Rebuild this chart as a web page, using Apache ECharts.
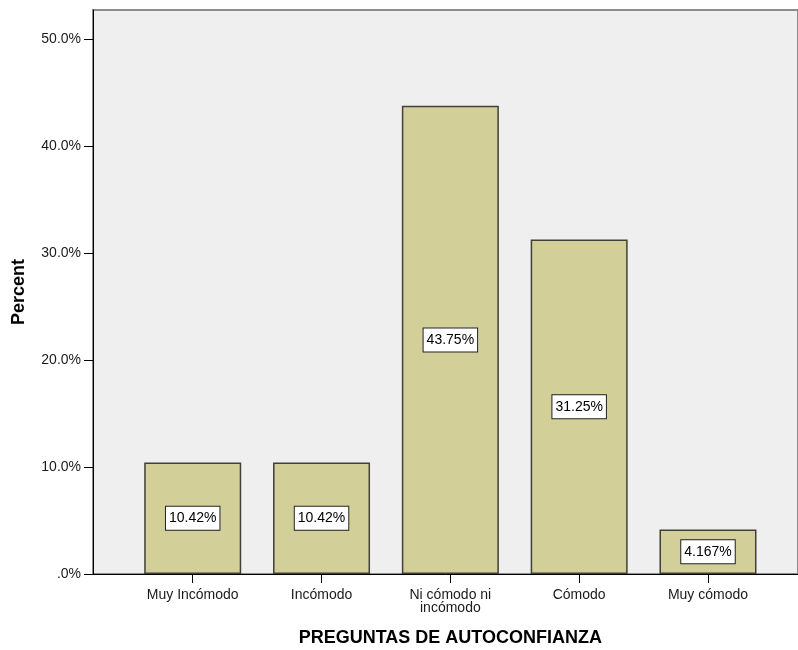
<!DOCTYPE html>
<html>
<head>
<meta charset="utf-8">
<script src="https://cdn.jsdelivr.net/npm/echarts@6/dist/echarts.min.js"></script>
<style>
  html, body { margin: 0; padding: 0; background: #ffffff; }
  #chart { width: 798px; height: 650px; }
</style>
</head>
<body>
<div id="chart"></div>
<script>
// Response categories and their percentages
const categories = ['Muy Incómodo', 'Incómodo', 'Ni cómodo ni\nincómodo', 'Cómodo', 'Muy cómodo'];
const percents = [10.42, 10.42, 43.75, 31.25, 4.167];
const percentLabels = ['10.42%', '10.42%', '43.75%', '31.25%', '4.167%'];
const yTicks = [0, 10, 20, 30, 40, 50];

const FONT = '"Liberation Sans", Arial, sans-serif';
const Y_MAX = 52.7;

const chart = echarts.init(document.getElementById('chart'), null, { renderer: 'canvas' });

chart.setOption({
  animation: false,
  backgroundColor: '#ffffff',
  textStyle: { fontFamily: FONT },
  grid: [
    // plot frame with the grey panel
    { left: 93, right: 0, top: 10, bottom: 76, show: true, outerBoundsMode: 'none', containLabel: false,
      backgroundColor: '#efefef', borderColor: '#8c8c8c', borderWidth: 2 },
    // band area where the bars sit
    { left: 128.3, right: 25.6, top: 10, bottom: 76, outerBoundsMode: 'none', containLabel: false }
  ],
  xAxis: [
    { type: 'value', gridIndex: 0, min: 0, max: 1,
      axisLine: { show: true, lineStyle: { color: '#000', width: 1 } },
      axisTick: { show: false }, axisLabel: { show: false }, splitLine: { show: false } },
    { type: 'category', gridIndex: 1, data: categories,
      axisLine: { show: false, onZero: false },
      axisTick: { show: true, alignWithLabel: true, length: 9, lineStyle: { color: '#000', width: 1 } },
      axisLabel: { margin: 15, fontSize: 14, color: '#1a1a1a', fontFamily: FONT, lineHeight: 13, interval: 0 },
      splitLine: { show: false },
      name: 'PREGUNTAS DE AUTOCONFIANZA', nameLocation: 'middle', nameGap: 55,
      nameTextStyle: { fontSize: 18, fontWeight: 'bold', color: '#000', fontFamily: FONT }
    }
  ],
  yAxis: [
    { type: 'value', gridIndex: 0, min: 0, max: Y_MAX,
      axisLine: { show: true, lineStyle: { color: '#000', width: 1 } },
      axisTick: { show: true, length: 9, customValues: yTicks, lineStyle: { color: '#000', width: 1 } },
      axisLabel: { margin: 12, fontSize: 14, color: '#1a1a1a', fontFamily: FONT, customValues: yTicks,
        formatter: v => (v === 0 ? '.0%' : v.toFixed(1) + '%') },
      splitLine: { show: false },
      name: 'Percent', nameLocation: 'middle', nameGap: 65, nameRotate: 90,
      nameTextStyle: { fontSize: 18, fontWeight: 'bold', color: '#000', fontFamily: FONT }
    },
    { type: 'value', gridIndex: 1, min: 0, max: Y_MAX, show: false, splitLine: { show: false } }
  ],
  series: [
    {
      type: 'bar', xAxisIndex: 1, yAxisIndex: 1,
      data: percents,
      barWidth: 97,
      itemStyle: { color: '#d3cf98', borderColor: '#404038', borderWidth: 1.5 },
      label: {
        show: true, position: 'inside',
        formatter: p => percentLabels[p.dataIndex],
        fontSize: 14, color: '#000', fontFamily: FONT,
        backgroundColor: '#ffffff', borderColor: '#222', borderWidth: 1,
        padding: [5, 3, 4, 3]
      }
    }
  ]
});
</script>
</body>
</html>
